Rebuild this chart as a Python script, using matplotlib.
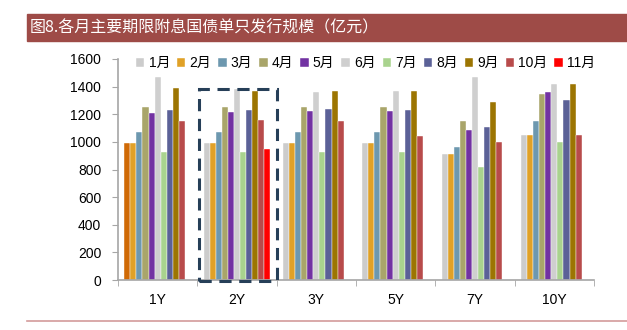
import numpy as np
import matplotlib
matplotlib.use('Agg')
import matplotlib.pyplot as plt
from matplotlib.patches import Rectangle

plt.rcParams['font.family'] = ['Liberation Sans', 'Noto Sans CJK SC', 'DejaVu Sans']

terms = ['1Y', '2Y', '3Y', '5Y', '7Y', '10Y']
months = ['1月', '2月', '3月', '4月', '5月', '6月', '7月', '8月', '9月', '10月', '11月']

# issuance per month (亿元), one list per month, ordered as terms
m01 = [990, 990, 990, 990, 910, 1050]
m02 = [990, 990, 990, 990, 910, 1050]
m03 = [1070, 1070, 1070, 1070, 960, 1150]
m04 = [1250, 1250, 1250, 1250, 1150, 1350]
m05 = [1210, 1215, 1220, 1220, 1085, 1360]
m06 = [1470, 1380, 1360, 1365, 1470, 1420]
m07 = [930, 930, 930, 930, 820, 1000]
m08 = [1230, 1230, 1240, 1230, 1105, 1300]
m09 = [1390, 1370, 1370, 1370, 1290, 1420]
m10 = [1150, 1155, 1150, 1040, 1000, 1050]
m11 = [np.nan, 950, np.nan, np.nan, np.nan, np.nan]
series = [m01, m02, m03, m04, m05, m06, m07, m08, m09, m10, m11]

colors = ['#CCCCCC', '#E0A127', '#6D98AF', '#A9A56A', '#7232A2', '#CFCFCF',
          '#A9D38E', '#5B6197', '#9C7502', '#B84B4B', '#FF0000']

fig = plt.figure(figsize=(6.27, 3.30), dpi=100)

# title banner
fig.patches.append(Rectangle((27 / 627, 1 - 41 / 330), 600 / 627, 27 / 330,
                             transform=fig.transFigure, color='#9E4B47', zorder=0))
fig.text(30 / 627, 1 - 28 / 330, '图8.各月主要期限附息国债单只发行规模（亿元）',
         color='white', fontsize=11.5, va='center', ha='left',
         family=['Noto Sans CJK SC', 'DejaVu Sans'])
# bottom rule
fig.add_artist(plt.Line2D([27 / 627, 1], [1 - 321 / 330] * 2, color='#D39B9B', lw=1.2))

ax = fig.add_axes([118 / 627, 50 / 330, 476 / 627, 221 / 330])

x = np.arange(len(terms))
w = 0.0765
n = len(series)
bars = []
for i, (vals, c) in enumerate(zip(series, colors)):
    b = ax.bar(x + (i - (n - 1) / 2) * w, vals, w, color=c, label=months[i],
               edgecolor='white', linewidth=0.3)
    bars.append(b)

ax.set_xlim(-0.5, len(terms) - 0.5)
ax.set_ylim(0, 1600)
ax.set_yticks(range(0, 1601, 200))
ax.set_xticks(x)
ax.set_xticklabels(terms)
ax.set_xticks(np.arange(-0.5, len(terms)), minor=True)
ax.tick_params(axis='x', which='major', length=0, pad=9, labelsize=10)
ax.tick_params(axis='x', which='minor', length=4, color='#A6A6A6')
ax.tick_params(axis='y', length=4, color='#A6A6A6', labelsize=10, pad=8)
for s in ['top', 'right']:
    ax.spines[s].set_visible(False)
for s in ['left', 'bottom']:
    ax.spines[s].set_color('#A6A6A6')
    ax.spines[s].set_linewidth(1.2)

leg = ax.legend(ncol=11, loc='center', bbox_to_anchor=(0.52, 0.98), frameon=False,
                handlelength=0.6, handleheight=0.6, handletextpad=0.3,
                columnspacing=0.5, fontsize=10)

# first bar of 1Y is drawn in a darker orange in the source
bars[0].patches[0].set_facecolor('#D06A06')

# dashed highlight around 2Y
ax.add_patch(Rectangle((0.52, -8), 0.98, 1390, fill=False, ls=(0, (4, 2.5)),
                       lw=2.2, edgecolor='#263F58', clip_on=False, zorder=5))

fig.savefig('out.png', dpi=100)
